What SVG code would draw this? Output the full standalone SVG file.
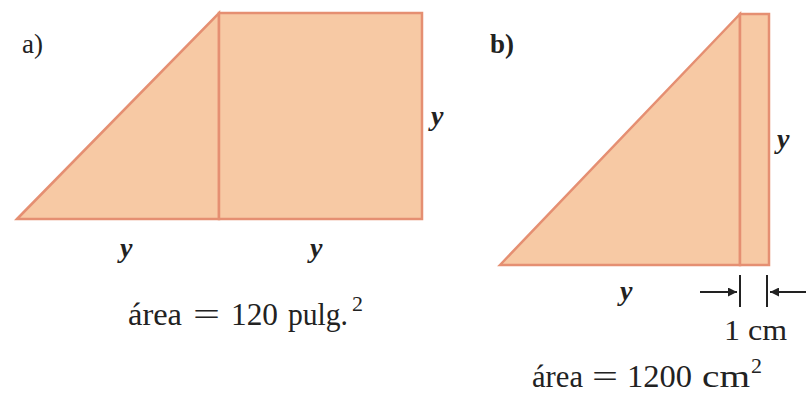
<svg xmlns="http://www.w3.org/2000/svg" width="808" height="400" viewBox="0 0 808 400">
<style>
.shape{fill:#F7C9A4;stroke:#E58F72;stroke-width:2.5;stroke-linejoin:miter}
.t{font-family:"Liberation Serif","Times New Roman",serif;fill:#222}
.v{font-family:"Liberation Serif","Times New Roman",serif;font-style:italic;font-weight:bold;fill:#222;font-size:28px}
.dim{stroke:#222;stroke-width:2;fill:none}
</style>
<defs>
<marker id="ah" viewBox="0 0 10 10" refX="10" refY="5" markerWidth="14" markerHeight="9" markerUnits="userSpaceOnUse" orient="auto">
<path d="M0,0 L10,5 L0,10 z" fill="#222"/>
</marker>
</defs>
<rect width="808" height="400" fill="#fff"/>
<g id="figA">
<polygon class="shape" points="17,219 219,13 219,219"/>
<rect class="shape" x="219" y="13" width="203" height="206"/>
<text class="t" x="22" y="53" font-size="27">a)</text>
<text class="v" x="431" y="125">y</text>
<text class="v" x="120" y="257">y</text>
<text class="v" x="310" y="257">y</text>
<text class="t" y="325" font-size="32"><tspan x="128" textLength="54" lengthAdjust="spacingAndGlyphs">área</tspan><tspan x="193" textLength="27" lengthAdjust="spacingAndGlyphs">=</tspan><tspan x="231" textLength="47" lengthAdjust="spacingAndGlyphs">120</tspan><tspan x="288" textLength="60" lengthAdjust="spacingAndGlyphs">pulg.</tspan><tspan x="352" y="311" font-size="22">2</tspan></text>
</g>
<g id="figB">
<polygon class="shape" points="500,265 740,14 740,265"/>
<rect class="shape" x="740" y="14" width="29" height="251"/>
<text class="t" x="490" y="53" font-size="27" font-weight="bold">b)</text>
<text class="v" x="777" y="148">y</text>
<text class="v" x="620" y="300">y</text>
<text class="t" x="724" y="340" font-size="30" textLength="63" lengthAdjust="spacingAndGlyphs">1 cm</text>
<text class="t" y="387" font-size="32"><tspan x="532" textLength="51" lengthAdjust="spacingAndGlyphs">área</tspan><tspan x="592" textLength="26" lengthAdjust="spacingAndGlyphs">=</tspan><tspan x="627" textLength="65" lengthAdjust="spacingAndGlyphs">1200</tspan><tspan x="702" textLength="48" lengthAdjust="spacingAndGlyphs">cm</tspan><tspan x="751" y="373" font-size="22">2</tspan></text>
</g>
<g id="connectors">
<line class="dim" x1="740" y1="275" x2="740" y2="307"/>
<line class="dim" x1="767" y1="275" x2="767" y2="307"/>
<line class="dim" x1="700" y1="292" x2="737" y2="292" marker-end="url(#ah)"/>
<line class="dim" x1="806" y1="292" x2="770" y2="292" marker-end="url(#ah)"/>
</g>
</svg>
